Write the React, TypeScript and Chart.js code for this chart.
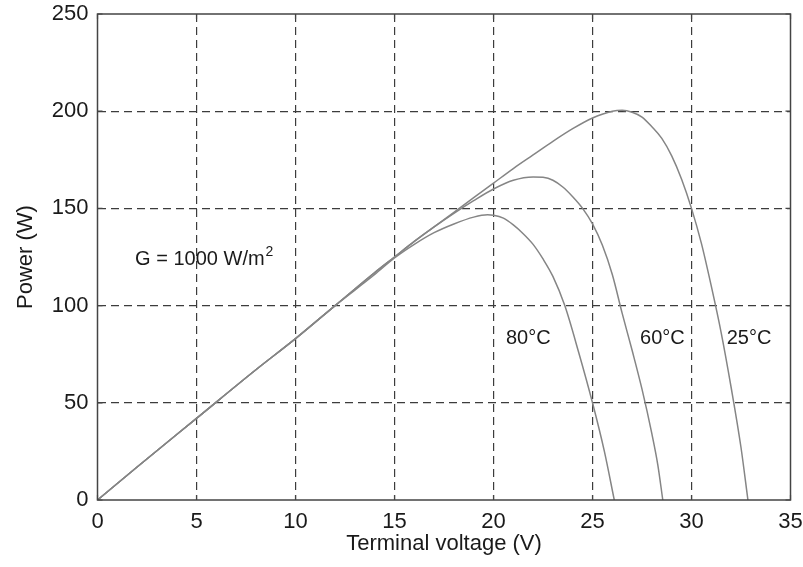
import React, { useEffect, useRef } from "react";
import { Chart, registerables } from "chart.js";

Chart.register(...registerables);

// X axis range / ticks (V)
const xTicks = [0, 5, 10, 15, 20, 25, 30, 35];
// Y axis range / ticks (W)
const yTicks = [0, 50, 100, 150, 200, 250];

// 25 °C curve
const voltage25 = [0, 2, 5, 8, 10, 12, 14, 15, 16, 17, 18, 19, 20, 21, 22, 23, 24, 25, 26, 26.5, 27, 27.5, 28, 28.5, 29, 29.5, 30, 30.5, 31, 31.5, 32, 32.5, 32.85];
const power25 = [0, 17, 42, 67, 83, 100, 117, 125, 133, 140.5, 148, 155.5, 163, 170.5, 177.5, 184.5, 191, 196.5, 200, 200.5, 199.5, 197, 192, 186, 177, 165, 150, 132, 110, 86, 58, 27, 0];

// 60 °C curve
const voltage60 = [0, 2, 5, 8, 10, 12, 14, 15, 16, 17, 18, 19, 20, 21, 22, 22.5, 23, 23.5, 24, 24.5, 25, 25.5, 26, 26.5, 27, 27.5, 28, 28.3, 28.55];
const power60 = [0, 17, 42, 67, 83, 100, 117, 125, 133, 140.5, 147.5, 154, 160, 164.5, 166.2, 166, 164.5, 161, 156, 150, 142, 131, 116, 96, 77, 57, 34, 18, 0];

// 80 °C curve
const voltage80 = [0, 2, 5, 8, 10, 12, 14, 15, 16, 17, 18, 19, 19.7, 20, 20.5, 21, 21.5, 22, 22.5, 23, 23.6, 24.3, 25, 25.6, 26.1];
const power80 = [0, 17, 42, 67, 83, 100, 116, 124.5, 131.5, 137.5, 142, 145.5, 146.7, 146.5, 145, 141.5, 137, 131.5, 124, 115, 100, 76, 50, 25, 0];

const curveLabels = ["25°C", "60°C", "80°C"];
const irradianceText = "G = 1000 W/m";

const FONT = "'Liberation Sans', Arial, Helvetica, sans-serif";

const toPoints = (xs: number[], ys: number[]) => xs.map((x, i) => ({ x, y: ys[i] }));

const overlayPlugin = {
  id: "overlay",
  afterDraw(chart: any) {
    const { ctx, chartArea, scales } = chart;
    const xs = scales.x;
    const ys = scales.y;
    ctx.save();
    // inward ticks
    ctx.strokeStyle = "#444";
    ctx.lineWidth = 1.2;
    ctx.setLineDash([]);
    const tl = 5;
    ctx.beginPath();
    xTicks.forEach((v) => {
      const px = xs.getPixelForValue(v);
      ctx.moveTo(px, chartArea.bottom);
      ctx.lineTo(px, chartArea.bottom - tl);
      ctx.moveTo(px, chartArea.top);
      ctx.lineTo(px, chartArea.top + tl);
    });
    yTicks.forEach((v) => {
      const py = ys.getPixelForValue(v);
      ctx.moveTo(chartArea.left, py);
      ctx.lineTo(chartArea.left + tl, py);
      ctx.moveTo(chartArea.right, py);
      ctx.lineTo(chartArea.right - tl, py);
    });
    ctx.stroke();
    // box
    ctx.lineWidth = 1.5;
    ctx.strokeRect(chartArea.left, chartArea.top, chartArea.right - chartArea.left, chartArea.bottom - chartArea.top);

    // annotations
    ctx.fillStyle = "#1a1a1a";
    ctx.font = `20px ${FONT}`;
    ctx.textAlign = "left";
    ctx.textBaseline = "middle";
    const labelPos = [
      { v: 31.78, p: 83 },
      { v: 27.4, p: 83 },
      { v: 20.63, p: 83 },
    ];
    curveLabels.forEach((t, i) => {
      ctx.fillText(t, xs.getPixelForValue(labelPos[i].v), ys.getPixelForValue(labelPos[i].p));
    });
    ctx.textBaseline = "alphabetic";
    const gx = xs.getPixelForValue(1.9);
    const gy = ys.getPixelForValue(120.9);
    ctx.fillText(irradianceText, gx, gy);
    const w = ctx.measureText(irradianceText).width;
    ctx.font = `14px ${FONT}`;
    ctx.fillText("2", gx + w + 1, gy - 9);
    ctx.restore();
  },
};

export default function App() {
  const ref = useRef<HTMLCanvasElement | null>(null);
  useEffect(() => {
    if (!ref.current) return;
    const gridColor = (edges: number[]) => (c: any) =>
      c.tick && edges.includes(c.tick.value) ? "rgba(0,0,0,0)" : "#3c3c3c";
    const lineStyle = {
      borderColor: "#858585",
      borderWidth: 1.5,
      pointRadius: 0,
      fill: false,
      cubicInterpolationMode: "monotone" as const,
    };
    const chart = new Chart(ref.current, {
      type: "line",
      data: {
        datasets: [
          { label: curveLabels[0], data: toPoints(voltage25, power25), ...lineStyle },
          { label: curveLabels[1], data: toPoints(voltage60, power60), ...lineStyle },
          { label: curveLabels[2], data: toPoints(voltage80, power80), ...lineStyle },
        ],
      },
      options: {
        animation: false,
        responsive: false,
        layout: { padding: { left: 0, right: 12.5, top: 14, bottom: 0 } },
        plugins: { legend: { display: false }, tooltip: { enabled: false } },
        scales: {
          x: {
            type: "linear",
            min: 0,
            max: 35,
            ticks: { stepSize: 5, color: "#1a1a1a", font: { family: FONT, size: 22 }, padding: 9, maxRotation: 0 },
            grid: { color: gridColor([0, 35]), lineWidth: 1.2, drawTicks: false },
            border: { display: false, dash: [8, 5] },
            title: { display: true, text: "Terminal voltage (V)", color: "#1a1a1a", font: { family: FONT, size: 22 }, padding: { top: 0, bottom: 10 } },
            afterFit: (s: any) => {
              s.height = 67;
              s.paddingLeft = 0;
              s.paddingRight = 0;
            },
          },
          y: {
            type: "linear",
            min: 0,
            max: 250,
            ticks: { stepSize: 50, color: "#1a1a1a", font: { family: FONT, size: 22 }, padding: 9 },
            grid: { color: gridColor([0, 250]), lineWidth: 1.2, drawTicks: false },
            border: { display: false, dash: [8, 5] },
            title: { display: true, text: "Power (W)", color: "#1a1a1a", font: { family: FONT, size: 22 }, padding: { top: 13, bottom: 0 } },
            afterFit: (s: any) => {
              s.width = 97.5;
              s.paddingTop = 0;
              s.paddingBottom = 0;
            },
          },
        },
      },
      plugins: [overlayPlugin],
    });
    return () => chart.destroy();
  }, []);
  return (
    <div style={{ position: "absolute", left: 0, top: 0, width: 803, height: 567, background: "#fff" }}>
      <canvas ref={ref} width={803} height={567} />
    </div>
  );
}
